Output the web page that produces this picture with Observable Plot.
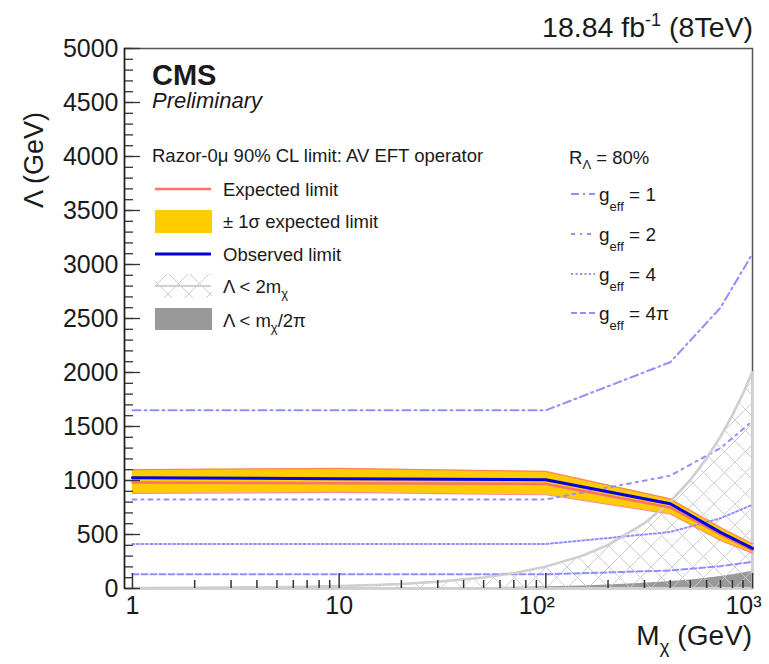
<!DOCTYPE html>
<html><head><meta charset="utf-8">
<script src="https://cdn.jsdelivr.net/npm/d3@7"></script>
<script src="https://cdn.jsdelivr.net/npm/@observablehq/plot@0.6"></script>
<style>
body{margin:0;background:#fff}
svg{font-family:"Liberation Sans",Arial,Helvetica,sans-serif}
</style>
</head><body><div id="chart"></div>
<script>
// ---- data ----
const mass      = [1, 10, 100, 400, 700, 1000];
const observed  = [1026, 1016, 1007, 785, 520, 372];
const expected  = [982, 975, 968, 750, 500, 355];
const bandUp    = [1100, 1112, 1084, 830, 565, 415];
const bandLo    = [880, 890, 868, 690, 445, 328];
const gEff1     = [1650, 1650, 1650, 2095, 2600, 3100];
const gEff2     = [825, 825, 825, 1045, 1300, 1550];
const gEff4     = [412, 412, 412, 523, 650, 775];
const gEff4pi   = [131, 131, 131, 167, 207, 247];
const boundMass = [1, 2, 3, 5, 7, 10, 15, 20, 30, 50, 70, 100, 150, 200, 300, 400, 500, 600, 700, 800, 900, 1000];
const lambda2m  = [2, 4, 6, 10, 14, 20, 30, 40, 60, 100, 140, 200, 300, 400, 600, 800, 1000, 1200, 1400, 1600, 1800, 2000];
const lambdaM2pi= [0.16, 0.32, 0.48, 0.8, 1.1, 1.6, 2.4, 3.2, 4.8, 8, 11.1, 15.9, 23.9, 31.8, 47.7, 63.7, 79.6, 95.5, 111.4, 127.3, 143.2, 159.2];
const xMajor    = [1, 10, 100, 1000];
const xLabels   = ["1", "10", "10²", "10³"];
const xMinor    = [2,3,4,5,6,7,8,9,20,30,40,50,60,70,80,90,200,300,400,500,600,700,800,900];
const yMajor    = [0, 500, 1000, 1500, 2000, 2500, 3000, 3500, 4000, 4500, 5000];
const yMinor    = d3.range(0, 5001, 100);

// ---- tables ----
const rows = mass.map((m, i) => ({m, obs: observed[i], exp: expected[i], up: bandUp[i], lo: bandLo[i]}));
const gSeries = [
  {v: gEff1, dash: "8,4,2,4"},
  {v: gEff2, dash: "4,5,2,5"},
  {v: gEff4, dash: "2,2.5"},
  {v: gEff4pi, dash: "6,3"}
];
const bound = boundMass.map((m, i) => ({m, a: lambda2m[i], b: lambdaM2pi[i]}));
const xLab = xMajor.map((m, i) => ({m, label: xLabels[i]}));

const W = 769, H = 664, mL = 124, mR = 17, mT = 48, mB = 76;
const fw = W - mL - mR, fh = H - mT - mB;
const gCol = "#8f8fff", expCol = "#ff7070", obsCol = "#0000e6", bandCol = "#ffcc00";
const tickCol = "#333";

const chart = Plot.plot({
  width: W, height: H,
  marginLeft: mL, marginRight: mR, marginTop: mT, marginBottom: mB,
  x: {type: "log", domain: [0.915, 1000], axis: null},
  y: {domain: [0, 5000], axis: null},
  style: {fontFamily: '"Liberation Sans",Arial,Helvetica,sans-serif', background: "#fff"},
  marks: [
    Plot.frame({stroke: "#555", strokeWidth: 1.5}),
    Plot.areaY(bound, {x: "m", y1: 0, y2: "b", fill: "#999"}),
    Plot.areaY(bound, {x: "m", y1: 0, y2: "a", fill: "url(#xhatch)", stroke: "#cfcfcf", strokeWidth: 2}),
    Plot.areaY(rows, {x: "m", y1: "lo", y2: "up", fill: bandCol}),
    Plot.line(rows, {x: "m", y: "up", stroke: expCol, strokeWidth: 1.2, strokeOpacity: 0.8}),
    Plot.line(rows, {x: "m", y: "lo", stroke: expCol, strokeWidth: 1.2, strokeOpacity: 0.8}),
    ...gSeries.map(g => Plot.line(mass, {x: d => d, y: (d, i) => g.v[i], stroke: gCol, strokeWidth: 2, strokeDasharray: g.dash})),
    Plot.line(bound, {x: "m", y: "a", stroke: "#cfcfcf", strokeWidth: 2}),
    Plot.line(rows, {x: "m", y: "exp", stroke: expCol, strokeWidth: 2.5}),
    Plot.line(rows, {x: "m", y: "obs", stroke: obsCol, strokeWidth: 3}),
    // ticks (inside the frame, ROOT style)
    Plot.tickY(yMinor, {y: d => d, insetRight: fw - 9, stroke: tickCol, strokeWidth: 1.3}),
    Plot.tickY(yMajor, {y: d => d, insetRight: fw - 16, stroke: tickCol, strokeWidth: 1.3}),
    Plot.tickX(xMinor, {x: d => d, insetTop: fh - 8, stroke: tickCol, strokeWidth: 1.5}),
    Plot.tickX(xMajor, {x: d => d, insetTop: fh - 15, stroke: tickCol, strokeWidth: 1.5}),
    Plot.ruleX([0.915], {stroke: "#222", strokeWidth: 1.5}),
    // tick labels
    Plot.text(yMajor, {y: d => d, frameAnchor: "left", dx: -6, textAnchor: "end", text: d => String(d), fontSize: 25, fill: "#1a1a1a"}),
    Plot.text(xLab.slice(0, 2), {x: "m", frameAnchor: "bottom", dy: 25, text: "label", fontSize: 25, fill: "#1a1a1a"}),
    Plot.text(xLab.slice(2), {x: "m", frameAnchor: "bottom", dy: 25, dx: -9, text: "label", fontSize: 25, fill: "#1a1a1a"})
  ]
});
document.getElementById("chart").appendChild(chart);

// ---- hatch pattern, annotations and legend ----
const svg = d3.select(chart);
const pat = svg.insert("defs", ":first-child").append("pattern")
  .attr("id", "xhatch").attr("patternUnits", "userSpaceOnUse")
  .attr("width", 21).attr("height", 21);
pat.append("path").attr("d", "M0,0L21,21M21,0L0,21M-2,19L2,23M19,-2L23,2M-2,2L2,-2M19,23L23,19")
  .attr("stroke", "#c8c8c8").attr("stroke-width", 0.9).attr("fill", "none");

const ann = svg.append("g").attr("fill", "#1a1a1a").attr("text-anchor", "start");
function txt(x, y, parts, size, opts = {}) {
  const t = ann.append("text").attr("x", x).attr("y", y).attr("font-size", size)
    .attr("text-anchor", opts.anchor || "start");
  if (opts.weight) t.attr("font-weight", opts.weight);
  if (opts.style) t.attr("font-style", opts.style);
  if (opts.transform) t.attr("transform", opts.transform);
  let back = 0;
  for (const p of parts) {
    if (typeof p === "string") {
      const s = t.append("tspan").text(p);
      if (back) { s.attr("dy", back); back = 0; }
    } else {
      t.append("tspan").attr("dy", p.dy + back).attr("font-size", p.size).text(p.t);
      back = -p.dy;
    }
  }
  return t;
}

// luminosity label
txt(753, 37, ["18.84 fb", {t: "-1", dy: -11, size: 18}, " (8TeV)"], 28.5, {anchor: "end"});
// CMS Preliminary
txt(152, 85, ["CMS"], 29, {weight: "bold"});
txt(152, 108, ["Preliminary"], 22, {style: "italic"});
// axis titles
txt(0, 0, ["Λ (GeV)"], 27, {anchor: "end", transform: "translate(43,112) rotate(-90)"});
txt(752, 645, ["M", {t: "χ", dy: 8, size: 19}, " (GeV)"], 28, {anchor: "end"});

// left legend
const fs = 18.5;
txt(152, 162, ["Razor-0μ 90% CL limit: AV EFT operator"], fs);
const lg = svg.append("g");
lg.append("line").attr("x1", 155).attr("x2", 211).attr("y1", 189).attr("y2", 189).attr("stroke", expCol).attr("stroke-width", 2.5);
txt(223, 196, ["Expected limit"], fs);
lg.append("rect").attr("x", 155).attr("y", 210).attr("width", 57).attr("height", 23).attr("fill", bandCol);
txt(223, 228, ["± 1σ expected limit"], fs);
lg.append("line").attr("x1", 155).attr("x2", 211).attr("y1", 254).attr("y2", 254).attr("stroke", obsCol).attr("stroke-width", 3);
txt(223, 261, ["Observed limit"], fs);
lg.append("rect").attr("x", 155).attr("y", 274).attr("width", 57).attr("height", 24).attr("fill", "url(#xhatch)");
lg.append("line").attr("x1", 155).attr("x2", 211).attr("y1", 286).attr("y2", 286).attr("stroke", "#cfcfcf").attr("stroke-width", 2);
txt(223, 293, ["Λ < 2m", {t: "χ", dy: 5, size: 13}], fs);
lg.append("rect").attr("x", 155).attr("y", 308).attr("width", 57).attr("height", 22).attr("fill", "#999");
txt(223, 327, ["Λ < m", {t: "χ", dy: 5, size: 13}, "/2π"], fs);

// right legend
txt(569, 164, ["R", {t: "Λ", dy: 5, size: 13}, " = 80%"], fs);
const gLab = ["1", "2", "4", "4π"];
const gY = [194, 234, 274, 313];
gSeries.forEach((g, i) => {
  lg.append("line").attr("x1", 571).attr("x2", 595).attr("y1", gY[i]).attr("y2", gY[i])
    .attr("stroke", gCol).attr("stroke-width", 2).attr("stroke-dasharray", g.dash);
  txt(599, gY[i] + 7, ["g", {t: "eff", dy: 10, size: 13}, " = " + gLab[i]], 19);
});
</script>
</body></html>
